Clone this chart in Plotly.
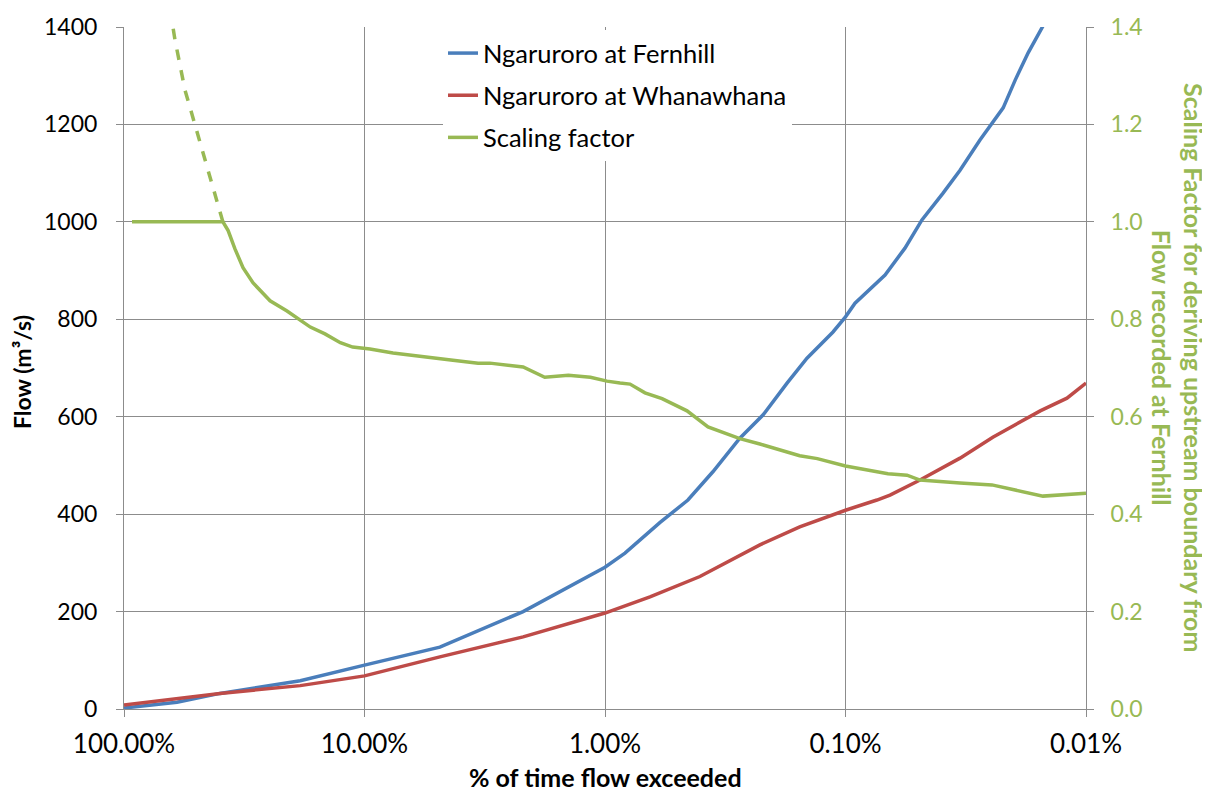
import plotly.graph_objects as go

# ---- data (percent of time exceeded, flow m3/s) ----
fern_pct = [100, 60.2, 39.9, 18.5, 10, 4.86, 2.19, 1, 0.826, 0.590, 0.452, 0.356, 0.275,
            0.220, 0.175, 0.1446, 0.1127, 0.1, 0.0913, 0.0685, 0.0566, 0.0481, 0.0393,
            0.0334, 0.0276, 0.0221, 0.0197, 0.0174, 0.0151]
fern_flow = [2, 14, 32, 58, 90, 127, 200, 291, 320, 383, 429, 487, 556,
             604, 669, 720, 774, 805, 833, 891, 946, 1004, 1059,
             1106, 1168, 1234, 1291, 1347, 1402]

whana_pct = [100, 39.9, 18.5, 10, 4.86, 2.19, 1, 0.650, 0.403, 0.227, 0.155, 0.1,
             0.074, 0.0653, 0.049, 0.0334, 0.0244, 0.0176, 0.0155, 0.0120, 0.01]
whana_flow = [8, 32, 48, 68, 107, 148, 197, 230, 272, 337, 374, 408,
              429, 439, 470, 515, 558, 597, 612, 638, 669]

scale_pct = [92.6, 38.8, 36.9, 34.6, 32.0, 29.1, 24.7, 21.0, 16.8, 14.6, 12.6, 11.2, 9.49,
             7.61, 4.29, 3.37, 3.01, 2.56, 2.19, 1.78, 1.42, 1.15, 0.981, 0.866, 0.787,
             0.682, 0.579, 0.456, 0.373, 0.275, 0.227, 0.155, 0.131, 0.1, 0.0814, 0.0666,
             0.0555, 0.0490, 0.0334, 0.0246, 0.0151, 0.01]
scale_val = [1.0, 1.0, 0.982, 0.945, 0.906, 0.875, 0.838, 0.817, 0.784, 0.770, 0.752, 0.743, 0.739,
             0.731, 0.716, 0.710, 0.710, 0.706, 0.702, 0.681, 0.685, 0.681, 0.673, 0.669, 0.667,
             0.649, 0.637, 0.612, 0.579, 0.555, 0.544, 0.520, 0.514, 0.499, 0.491, 0.483,
             0.480, 0.470, 0.464, 0.460, 0.437, 0.443]

ext_pct = [38.8, 42.6, 50.7, 55.8, 61.4, 62.6]
ext_val = [1.0, 1.07, 1.195, 1.271, 1.374, 1.40]

x_ticks = [100, 10, 1, 0.1, 0.01]
x_ticktext = ["100.00%", "10.00%", "1.00%", "0.10%", "0.01%"]

BLUE = "#4A7EBB"
RED = "#BE4B48"
GREEN = "#98B954"
GRID = "#8C8C8C"
FONT = "Lato"

# page has an 8px body margin, so the figure is drawn 8px in and down
PW, PH = 962, 682

fig = go.Figure()
fig.add_trace(go.Scatter(x=fern_pct, y=fern_flow, mode="lines", name="Ngaruroro at Fernhill",
                         line=dict(color=BLUE, width=3.5), legendgroup="a"))
fig.add_trace(go.Scatter(x=whana_pct, y=whana_flow, mode="lines", name="Ngaruroro at Whanawhana",
                         line=dict(color=RED, width=3.5), legendgroup="b"))
fig.add_trace(go.Scatter(x=scale_pct, y=scale_val, mode="lines", name="Scaling factor",
                         line=dict(color=GREEN, width=3.5), yaxis="y2", legendgroup="c"))
fig.add_trace(go.Scatter(x=ext_pct, y=ext_val, mode="lines", showlegend=False,
                         line=dict(color=GREEN, width=3.5, dash="dash"), yaxis="y2"))

fig.update_layout(
    width=1202, height=784,
    margin=dict(l=116, r=124, t=19, b=83, autoexpand=False),
    plot_bgcolor="white", paper_bgcolor="white",
    font=dict(family=FONT, size=23, color="black"),
    showlegend=True,
    legend=dict(x=(443 - 124) / PW, y=1.0 - 3 / PH, xanchor="left", yanchor="top", bgcolor="white",
                font=dict(size=25.5, family=FONT, color="black"), tracegroupgap=6,
                borderwidth=0),
    xaxis=dict(type="log", range=[2, -2], tickvals=x_ticks, ticktext=x_ticktext,
               showgrid=True, gridcolor=GRID, gridwidth=1, showline=True, linecolor=GRID,
               ticks="outside", ticklen=7, tickcolor=GRID, ticklabelstandoff=5,
               zeroline=False, tickfont=dict(size=26)),
    yaxis=dict(range=[0, 1400], dtick=200, showgrid=True, gridcolor=GRID, gridwidth=1,
               showline=True, linecolor=GRID, ticks="outside", ticklen=7, tickcolor=GRID,
               ticklabelstandoff=14, zeroline=False, tickfont=dict(size=23)),
    yaxis2=dict(range=[0, 1.4], dtick=0.2, tickformat=".1f", overlaying="y", side="right",
                showgrid=False, showline=True, linecolor=GRID, ticks="outside", ticklen=7,
                tickcolor=GRID, ticklabelstandoff=12, zeroline=False,
                tickfont=dict(size=23, color=GREEN)),
    annotations=[
        dict(text="<b>Flow (m³/s)</b>", xref="paper", yref="paper",
             x=(22 - 124) / PW, y=(709 - 372) / PH, xanchor="center", yanchor="middle",
             textangle=-90, showarrow=False, font=dict(size=23, color="black")),
        dict(text="<b>% of time flow exceeded</b>", xref="paper", yref="paper",
             x=(605 - 124) / PW, y=(709 - 777) / PH, xanchor="center", yanchor="middle",
             showarrow=False, font=dict(size=25, color="black")),
        dict(text="<b>Scaling Factor for deriving upstream boundary from<br>Flow recorded at Fernhill</b>",
             xref="paper", yref="paper", x=(1178 - 124) / PW, y=(709 - 367) / PH,
             xanchor="center", yanchor="middle", textangle=90,
             showarrow=False, font=dict(size=25, color=GREEN)),
    ],
)

fig.write_html("out.html")
